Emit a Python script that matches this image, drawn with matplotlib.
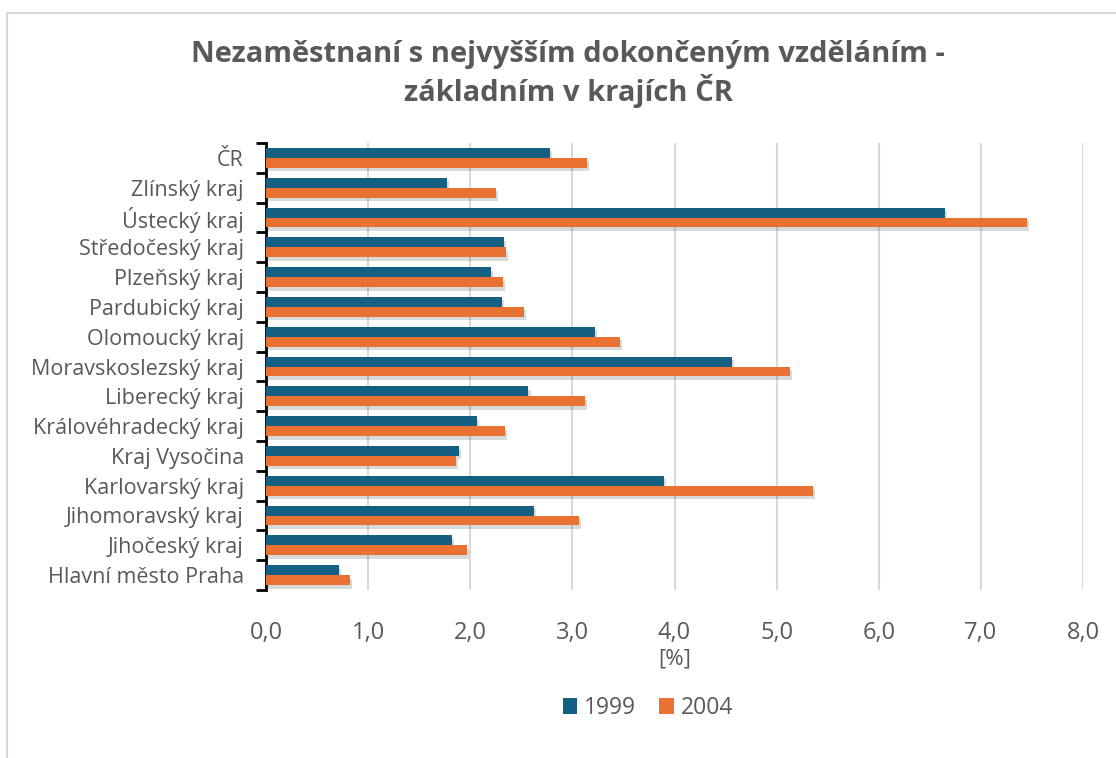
import matplotlib
matplotlib.use("Agg")
import matplotlib.pyplot as plt
import matplotlib.patheffects as pe
from matplotlib.patches import Rectangle, Patch
import numpy as np

categories = ["Hlavní město Praha", "Jihočeský kraj", "Jihomoravský kraj", "Karlovarský kraj",
              "Kraj Vysočina", "Královéhradecký kraj", "Liberecký kraj", "Moravskoslezský kraj",
              "Olomoucký kraj", "Pardubický kraj", "Plzeňský kraj", "Středočeský kraj",
              "Ústecký kraj", "Zlínský kraj", "ČR"]
v1999 = [0.71, 1.82, 2.62, 3.90, 1.89, 2.07, 2.57, 4.56, 3.22, 2.31, 2.20, 2.33, 6.65, 1.77, 2.78]
v2004 = [0.82, 1.97, 3.06, 5.36, 1.86, 2.34, 3.12, 5.13, 3.47, 2.53, 2.32, 2.35, 7.45, 2.25, 3.14]
series_names = ["1999", "2004"]
xticks = [0, 1, 2, 3, 4, 5, 6, 7, 8]
title = "Nezaměstnaní s nejvyšším dokončeným vzděláním -\nzákladním v krajích ČR"

plt.rcParams['font.family'] = ['Open Sans', 'DejaVu Sans']
gray = '#595959'
c1 = '#156082'
c2 = '#E97132'

fig = plt.figure(figsize=(11.16, 7.58), dpi=100)
fig.patches.append(Rectangle((7 / 1116, -0.1), 1.2, 1.1 - 12.5 / 758, transform=fig.transFigure,
                             fill=False, edgecolor='#D9D9D9', linewidth=1.5))
ax = fig.add_axes([266 / 1116, 1 - 590 / 758, (1083 - 266) / 1116, (590 - 143) / 758])

y = np.arange(len(categories))
h = 0.335
shadow = [pe.SimplePatchShadow(offset=(1.5, -2.5), shadow_rgbFace='black', alpha=0.15), pe.Normal()]
b1 = ax.barh(y + h / 2, v1999, height=h, color=c1, zorder=3)
b2 = ax.barh(y - h / 2, v2004, height=h, color=c2, zorder=3)
for b in list(b1) + list(b2):
    b.set_path_effects(shadow)

ax.set_xlim(0, 8)
ax.set_ylim(-0.5, len(categories) - 0.5)
ax.set_xticks(xticks)
ax.set_xticklabels([f"{t:.1f}".replace('.', ',') for t in xticks], fontsize=17, color=gray)
ax.tick_params(axis='x', length=0, pad=22)
ax.xaxis.grid(True, color='#D9D9D9', linewidth=1.5, zorder=0)
ax.set_axisbelow(True)

ax.set_yticks(y)
ax.set_yticklabels(categories, fontsize=15.5, color=gray)
ax.set_yticks(np.arange(-0.5, len(categories), 1), minor=True)
ax.tick_params(axis='y', which='major', length=0, pad=16)
ax.tick_params(axis='y', which='minor', length=7, width=2, color='black', direction='out')

for s in ['top', 'right', 'bottom']:
    ax.spines[s].set_visible(False)
ax.spines['left'].set_linewidth(2)
ax.spines['left'].set_color('black')

ax.set_xlabel("[%]", fontsize=16, color=gray, labelpad=3)

fig.text(568 / 1116, 1 - 74 / 758, title, ha='center', va='center', fontsize=21,
         fontweight='bold', color=gray, linespacing=1.2)

handles = [Patch(facecolor=c1), Patch(facecolor=c2)]
leg = fig.legend(handles=handles, labels=series_names, loc='center', bbox_to_anchor=(648 / 1116, 1 - 708 / 758),
                 ncol=2, frameon=False, fontsize=16.5, handlelength=0.65, handleheight=0.65,
                 handletextpad=0.3, columnspacing=1.0)
for t in leg.get_texts():
    t.set_color(gray)

fig.savefig("out.png", dpi=100)
